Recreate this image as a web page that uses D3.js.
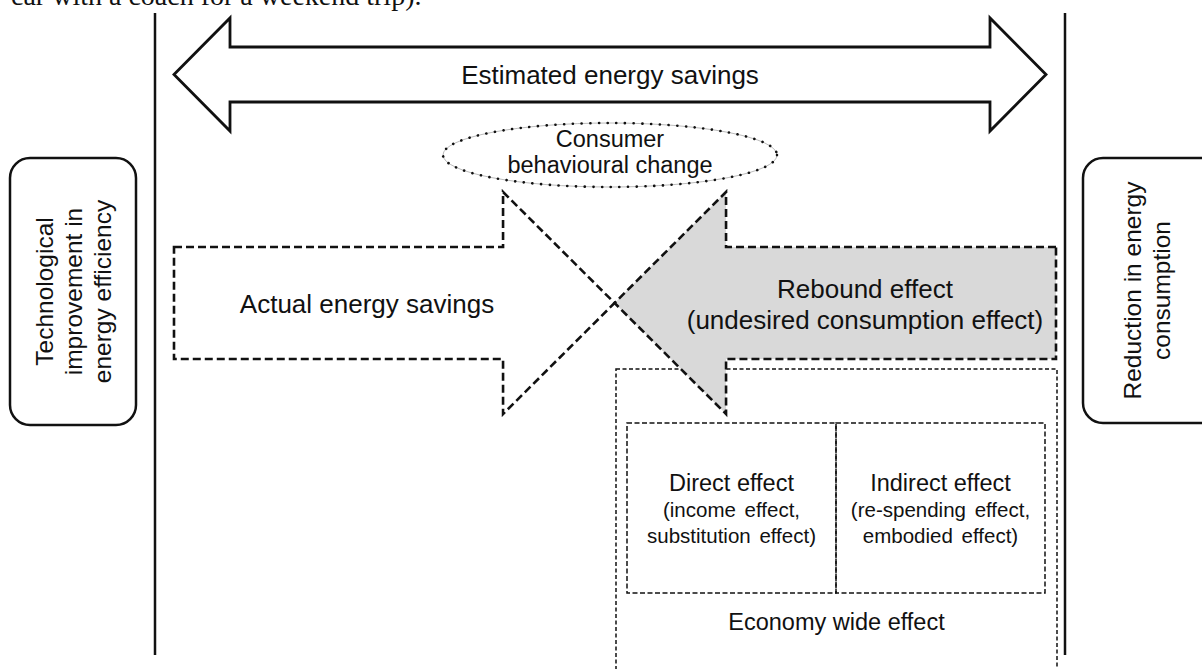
<!DOCTYPE html>
<html>
<head>
<meta charset="utf-8">
<script src="https://cdn.jsdelivr.net/npm/d3@7"></script>
<style>
  html, body { margin: 0; padding: 0; background: #fff; overflow: hidden; }
  svg { display: block; }
  text { font-family: "Liberation Sans", Arial, sans-serif; fill: #111; }
</style>
</head>
<body>
<div id="chart"></div>
<script>
// labels and shares
var captionTail = "car with a coach for a weekend trip).";
var endLabels = [
  ["Technological", "improvement in", "energy efficiency"],
  ["Reduction in energy", "consumption"]
];
var savingsLabel = "Estimated energy savings";
var behaviourLabel = ["Consumer", "behavioural change"];
var actualLabel = ["Actual energy savings"];
var reboundLabel = ["Rebound effect", "(undesired consumption effect)"];
var effectTitles = ["Direct effect", "Indirect effect"];
var effectDetails = [
  ["(income effect,", "substitution effect)"],
  ["(re-spending effect,", "embodied effect)"]
];
var economyLabel = "Economy wide effect";
// actual savings vs rebound, % of the estimated savings
var shares = [50.5, 49.5];

var width = 1202, height = 669;

var svg = d3.select("#chart").append("svg")
  .attr("width", width)
  .attr("height", height);

// 0 = efficiency improvement, 100 = full estimated reduction
var x = d3.scaleLinear().domain([0, 100]).range([155, 1065]);

// leftover caption line from the page above (clipped at the top)
svg.append("text")
  .attr("x", 11).attr("y", 5)
  .style("font-family", "'Liberation Serif', 'Times New Roman', serif")
  .style("font-size", "28px")
  .text(captionTail);

// two vertical boundaries
svg.selectAll("line.bound")
  .data([0, 100])
  .enter().append("line")
  .attr("class", "bound")
  .attr("x1", function(d) { return x(d); })
  .attr("x2", function(d) { return x(d); })
  .attr("y1", 13).attr("y2", 655)
  .attr("stroke", "#111").attr("stroke-width", 2.5);

// rounded end boxes
var endBoxes = [
  { x0: 10, x1: 136, y0: 158, y1: 425, first: 53, lines: endLabels[0] },
  { x0: 1083, x1: 1225, y0: 158, y1: 423, first: 1141, lines: endLabels[1] }
];
endBoxes.forEach(function(b) {
  svg.append("rect")
    .attr("x", b.x0).attr("y", b.y0)
    .attr("width", b.x1 - b.x0).attr("height", b.y1 - b.y0)
    .attr("rx", 20).attr("ry", 20)
    .attr("fill", "#fff").attr("stroke", "#111").attr("stroke-width", 2.5);
  var lh = 29;
  var t = svg.append("text")
    .attr("transform", "translate(" + b.first + "," + ((b.y0 + b.y1) / 2) + ") rotate(-90)")
    .attr("text-anchor", "middle")
    .style("font-size", "24.5px");
  t.selectAll("tspan")
    .data(b.lines)
    .enter().append("tspan")
    .attr("x", 0)
    .attr("y", function(d, i) { return i * lh; })
    .text(function(d) { return d; });
});

// double headed arrow: estimated savings
var ax0 = x(0) + 19, ax1 = x(100) - 19, head = 56, cy = 74.5;
var p = d3.path();
p.moveTo(ax0, cy);
p.lineTo(ax0 + head, cy - 56.5);
p.lineTo(ax0 + head, cy - 27.5);
p.lineTo(ax1 - head, cy - 27.5);
p.lineTo(ax1 - head, cy - 56.5);
p.lineTo(ax1, cy);
p.lineTo(ax1 - head, cy + 56.5);
p.lineTo(ax1 - head, cy + 27.5);
p.lineTo(ax0 + head, cy + 27.5);
p.lineTo(ax0 + head, cy + 56.5);
p.closePath();
svg.append("path")
  .attr("d", p.toString())
  .attr("fill", "#fff").attr("stroke", "#111")
  .attr("stroke-width", 2.8).attr("stroke-linejoin", "miter");
svg.append("text")
  .attr("x", (ax0 + ax1) / 2).attr("y", 84)
  .attr("text-anchor", "middle")
  .style("font-size", "26px")
  .text(savingsLabel);

// dotted ellipse: consumer behaviour
svg.append("ellipse")
  .attr("cx", 610).attr("cy", 155).attr("rx", 167).attr("ry", 32)
  .attr("fill", "none").attr("stroke", "#aaa").attr("stroke-width", 0.8);
svg.append("ellipse")
  .attr("cx", 610).attr("cy", 155).attr("rx", 167).attr("ry", 32)
  .attr("fill", "none").attr("stroke", "#111").attr("stroke-width", 2.6)
  .attr("stroke-linecap", "round").attr("stroke-dasharray", "0.1 8.6");
svg.append("text")
  .attr("text-anchor", "middle")
  .style("font-size", "23.5px")
  .selectAll("tspan")
  .data(behaviourLabel)
  .enter().append("tspan")
  .attr("x", 610)
  .attr("y", function(d, i) { return 147 + i * 26; })
  .text(function(d) { return d; });

// economy wide effect frame (under the rebound arrow)
var ex0 = 616, ex1 = 1057;
svg.append("rect")
  .attr("x", ex0).attr("y", 369)
  .attr("width", ex1 - ex0).attr("height", 340)
  .attr("fill", "none").attr("stroke", "#111")
  .attr("stroke-width", 1.5).attr("stroke-dasharray", "4 2.5");

var cells = [
  { x0: 627, x1: 836 },
  { x0: 836, x1: 1045 }
];
cells.forEach(function(c, i) {
  svg.append("rect")
    .attr("x", c.x0).attr("y", 423)
    .attr("width", c.x1 - c.x0).attr("height", 170)
    .attr("fill", "none").attr("stroke", "#111")
    .attr("stroke-width", 1.5).attr("stroke-dasharray", "5 2.5");
  var mid = (c.x0 + c.x1) / 2;
  svg.append("text")
    .attr("x", mid).attr("y", 491)
    .attr("text-anchor", "middle")
    .style("font-size", "23.5px")
    .text(effectTitles[i]);
  svg.append("text")
    .attr("text-anchor", "middle")
    .style("font-size", "20.5px")
    .style("word-spacing", "3px")
    .selectAll("tspan")
    .data(effectDetails[i])
    .enter().append("tspan")
    .attr("x", mid)
    .attr("y", function(d, j) { return 517 + j * 26; })
    .text(function(d) { return d; });
});
svg.append("text")
  .attr("x", (ex0 + ex1) / 2).attr("y", 630)
  .attr("text-anchor", "middle")
  .style("font-size", "23.5px")
  .text(economyLabel);

// crossing arrows: actual savings (to the right) and rebound (to the left)
var tip = x(shares[0]), midY = 303, shaftH = 56, headH = 111, headL = 111.5;
var dash = { "stroke": "#111", "stroke-width": 2.6, "stroke-dasharray": "8 4" };

var pa = d3.path();
pa.moveTo(x(0) + 19, midY - shaftH);
pa.lineTo(tip - headL, midY - shaftH);
pa.lineTo(tip - headL, midY - headH);
pa.lineTo(tip, midY);
pa.lineTo(tip - headL, midY + headH);
pa.lineTo(tip - headL, midY + shaftH);
pa.lineTo(x(0) + 19, midY + shaftH);
pa.closePath();
svg.append("path").attr("d", pa.toString()).attr("fill", "#fff")
  .attr("stroke", dash.stroke).attr("stroke-width", dash["stroke-width"])
  .attr("stroke-dasharray", dash["stroke-dasharray"]);

var pr = d3.path();
pr.moveTo(x(100) - 9, midY - shaftH);
pr.lineTo(tip + headL, midY - shaftH);
pr.lineTo(tip + headL, midY - headH);
pr.lineTo(tip, midY);
pr.lineTo(tip + headL, midY + headH);
pr.lineTo(tip + headL, midY + shaftH);
pr.lineTo(x(100) - 9, midY + shaftH);
pr.closePath();
svg.append("path").attr("d", pr.toString()).attr("fill", "#d9d9d9")
  .attr("stroke", dash.stroke).attr("stroke-width", dash["stroke-width"])
  .attr("stroke-dasharray", dash["stroke-dasharray"]);

svg.append("text")
  .attr("x", 367).attr("y", 313)
  .attr("text-anchor", "middle")
  .style("font-size", "26px")
  .text(actualLabel[0]);

svg.append("text")
  .attr("text-anchor", "middle")
  .style("font-size", "26px")
  .selectAll("tspan")
  .data(reboundLabel)
  .enter().append("tspan")
  .attr("x", 865)
  .attr("y", function(d, i) { return 298 + i * 31; })
  .text(function(d) { return d; });
</script>
</body>
</html>
